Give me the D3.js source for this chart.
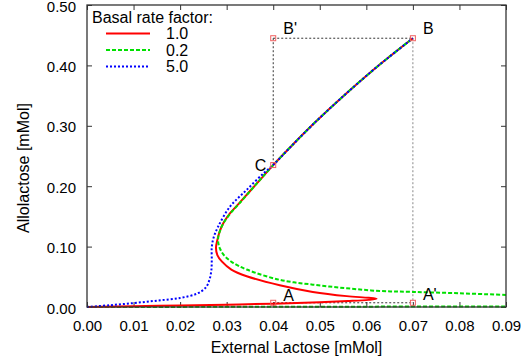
<!DOCTYPE html>
<html>
<head>
<meta charset="utf-8">
<script src="https://cdn.jsdelivr.net/npm/d3@7"></script>
<style>
  html, body { margin: 0; padding: 0; background: #fff; }
  svg { display: block; }
  text { font-family: "Liberation Sans", Arial, sans-serif; fill: #000; }
</style>
</head>
<body>
<svg id="chart" width="524" height="364"></svg>
<script>
// ---- data ----
const xTicks = [0.00, 0.01, 0.02, 0.03, 0.04, 0.05, 0.06, 0.07, 0.08, 0.09];
const yTicks = [0.00, 0.10, 0.20, 0.30, 0.40, 0.50];
const seriesNames = ["1.0", "0.2", "5.0"];
const legendTitle = "Basal rate factor:";
const xTitle = "External Lactose [mMol]";
const yTitle = "Allolactose [mMol]";

// rate factor 1.0 (red)
const redX = [0, 0.01, 0.02, 0.03, 0.04, 0.05, 0.056, 0.0605, 0.0622, 0.0605, 0.0558, 0.0485, 0.0414, 0.0343, 0.0310, 0.0290, 0.0280, 0.0277, 0.0280, 0.0285, 0.0293, 0.0307, 0.0327, 0.0363, 0.0400, 0.0436, 0.0485, 0.0549, 0.0625, 0.0700];
const redY = [0, 0.0012, 0.0025, 0.0038, 0.0055, 0.0078, 0.0098, 0.0118, 0.0135, 0.0152, 0.0180, 0.0250, 0.0360, 0.0510, 0.0620, 0.0750, 0.0860, 0.0980, 0.1110, 0.1250, 0.1390, 0.1550, 0.1720, 0.2030, 0.2350, 0.2640, 0.3020, 0.3480, 0.3990, 0.4450];

// rate factor 0.2 (green) - lower branch and middle/upper branch
const greenLowX = [0, 0.03, 0.06, 0.09];
const greenLowY = [0, 0.0003, 0.0006, 0.0009];
const greenX = [0.09, 0.08, 0.07, 0.0629, 0.0558, 0.0485, 0.0414, 0.0343, 0.0312, 0.0295, 0.0286, 0.0282, 0.0282, 0.0286, 0.0294, 0.0308, 0.0328, 0.0363, 0.0400, 0.0436, 0.0485, 0.0549, 0.0625, 0.0700];
const greenY = [0.020, 0.0227, 0.025, 0.0265, 0.031, 0.037, 0.045, 0.0620, 0.074, 0.085, 0.096, 0.106, 0.116, 0.127, 0.140, 0.155, 0.172, 0.203, 0.235, 0.264, 0.302, 0.348, 0.399, 0.445];

// rate factor 5.0 (blue) - monotonic
const blueX = [0, 0.005, 0.01, 0.015, 0.02, 0.0236, 0.0255, 0.0263, 0.0267, 0.0268, 0.0268, 0.0272, 0.0281, 0.0307, 0.0343, 0.0380, 0.0400, 0.0436, 0.0485, 0.0549, 0.0625, 0.0700];
const blueY = [0, 0.003, 0.0065, 0.0105, 0.0150, 0.022, 0.032, 0.045, 0.060, 0.078, 0.099, 0.115, 0.132, 0.166, 0.194, 0.222, 0.235, 0.264, 0.302, 0.348, 0.399, 0.445];

// marked points
const pointNames = ["B'", "B", "C", "A", "A'"];
const pointX = [0.04, 0.07, 0.04, 0.04, 0.07];
const pointY = [0.445, 0.445, 0.235, 0.007, 0.007];

// ---- layout ----
const svg = d3.select("#chart");
const m = { left: 87, top: 5, right: 18, bottom: 57 };
const W = 524, H = 364;
const x = d3.scaleLinear().domain([0, 0.09]).range([m.left, W - m.right]);
const y = d3.scaleLinear().domain([0, 0.5]).range([H - m.bottom, m.top]);
const fmt = d3.format(".2f");

const frameColor = "#333";

// ticks (inside, mirrored)
const tickLen = 5;
const ax = svg.append("g");
ax.append("g").attr("transform", `translate(0,${y(0)})`)
  .call(d3.axisBottom(x).tickValues(xTicks).tickFormat(fmt).tickSizeInner(-tickLen).tickSizeOuter(0).tickPadding(13))
  .call(g => g.select(".domain").remove());
ax.append("g").attr("transform", `translate(0,${y(0.5)})`)
  .call(d3.axisTop(x).tickValues(xTicks).tickFormat("").tickSizeInner(-tickLen).tickSizeOuter(0))
  .call(g => g.select(".domain").remove());
const yax = ax.append("g").attr("transform", `translate(${x(0)},0)`)
  .call(d3.axisLeft(y).tickValues(yTicks).tickFormat(fmt).tickSizeInner(-tickLen).tickSizeOuter(0).tickPadding(11))
  .call(g => g.select(".domain").remove());
yax.selectAll(".tick text").attr("dy", "0.4em");
ax.append("g").attr("transform", `translate(${x(0.09)},0)`)
  .call(d3.axisRight(y).tickValues(yTicks).tickFormat("").tickSizeInner(-tickLen).tickSizeOuter(0))
  .call(g => g.select(".domain").remove());
ax.selectAll(".tick line").attr("stroke", frameColor).attr("stroke-width", 1);
ax.selectAll(".tick text").attr("font-size", 15).attr("font-family", "'Liberation Sans', Arial, sans-serif").attr("fill", "#000");

// reference dotted lines
const ref = svg.append("g").attr("fill", "none");
ref.append("line").attr("x1", x(0.04)).attr("x2", x(0.07)).attr("y1", y(0.445)).attr("y2", y(0.445))
  .attr("stroke", "#333").attr("stroke-dasharray", "2,2");
ref.append("line").attr("x1", x(0.04)).attr("x2", x(0.04)).attr("y1", y(0.445)).attr("y2", y(0.235))
  .attr("stroke", "#333").attr("stroke-dasharray", "2,2");
ref.append("line").attr("x1", x(0.07)).attr("x2", x(0.07)).attr("y1", y(0.445)).attr("y2", y(0.007))
  .attr("stroke", "#888").attr("stroke-dasharray", "2,2");
ref.append("line").attr("x1", x(0.04)).attr("x2", x(0.07)).attr("y1", y(0.007)).attr("y2", y(0.007))
  .attr("stroke", "#333").attr("stroke-dasharray", "2,2");

// curves
const line = d3.line().x(d => x(d[0])).y(d => y(d[1])).curve(d3.curveCatmullRom.alpha(0.5));
const zip = (a, b) => a.map((v, i) => [v, b[i]]);
const curves = svg.append("g").attr("fill", "none").attr("stroke-width", 2);
curves.append("path").attr("d", line(zip(greenLowX, greenLowY))).attr("stroke", "#00e000").attr("stroke-dasharray", "4,2");
curves.append("path").attr("d", line(zip(redX, redY))).attr("stroke", "#ff0000");
curves.append("path").attr("d", line(zip(greenX, greenY))).attr("stroke", "#00e000").attr("stroke-dasharray", "4,2");
curves.append("path").attr("d", line(zip(blueX, blueY))).attr("stroke", "#0000ff").attr("stroke-dasharray", "2,2");

// frame
svg.append("rect").attr("x", x(0)).attr("y", y(0.5)).attr("width", x(0.09) - x(0)).attr("height", y(0) - y(0.5))
  .attr("fill", "none").attr("stroke", frameColor).attr("stroke-width", 1.3);

// markers
const mk = svg.append("g");
pointNames.forEach((n, i) => {
  mk.append("rect").attr("x", x(pointX[i]) - 2.5).attr("y", y(pointY[i]) - 2.5).attr("width", 5).attr("height", 5)
    .attr("fill", "none").attr("stroke", "#f06060").attr("stroke-width", 1);
});
const labelOff = { "B'": [10, -4, "start"], "B": [10, -4, "start"], "C": [-7, 6, "end"], "A": [10, -2, "start"], "A'": [10, -2.5, "start"] };
pointNames.forEach((n, i) => {
  const o = labelOff[n];
  mk.append("text").attr("x", x(pointX[i]) + o[0]).attr("y", y(pointY[i]) + o[1])
    .attr("text-anchor", o[2]).attr("font-size", 16).text(n);
});

// legend
const lg = svg.append("g");
lg.append("text").attr("x", 92).attr("y", 23).attr("font-size", 16).text(legendTitle);
const legStyles = [
  { stroke: "#ff0000", dash: null },
  { stroke: "#00e000", dash: "4,2" },
  { stroke: "#0000ff", dash: "2,2" }
];
seriesNames.forEach((n, i) => {
  const yy = 33.5 + i * 16.5;
  lg.append("line").attr("x1", 106).attr("x2", 150).attr("y1", yy).attr("y2", yy)
    .attr("stroke", legStyles[i].stroke).attr("stroke-width", 2)
    .attr("stroke-dasharray", legStyles[i].dash);
  lg.append("text").attr("x", 166).attr("y", yy).attr("dy", "0.35em").attr("font-size", 16).text(n);
});

// axis titles
svg.append("text").attr("x", (x(0) + x(0.09)) / 2).attr("y", 353).attr("text-anchor", "middle")
  .attr("font-size", 16).text(xTitle);
svg.append("text").attr("transform", "translate(29,168) rotate(-90)").attr("text-anchor", "middle")
  .attr("font-size", 16).text(yTitle);
</script>
</body>
</html>
